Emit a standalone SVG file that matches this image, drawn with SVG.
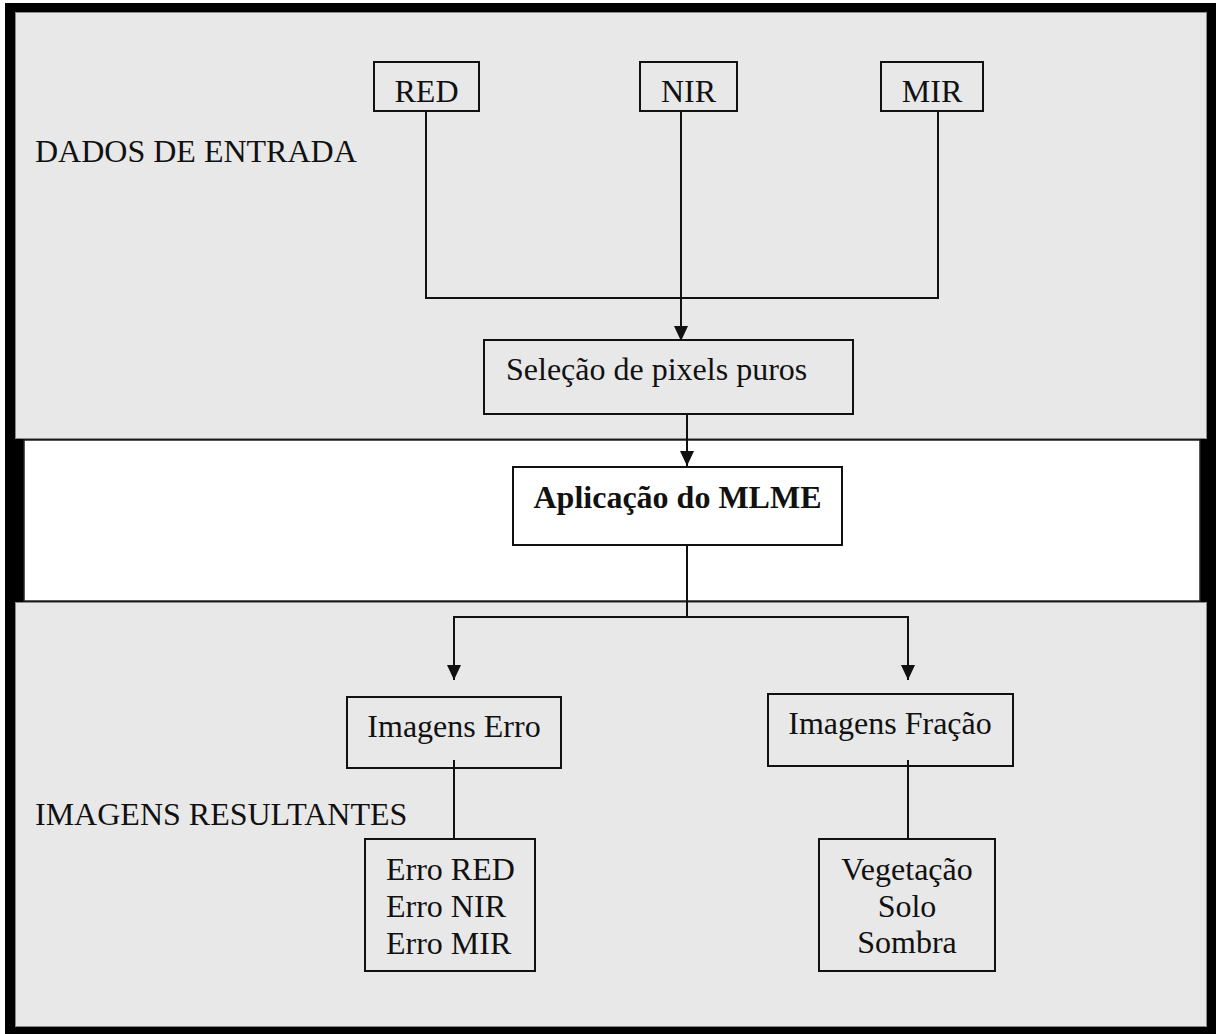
<svg xmlns="http://www.w3.org/2000/svg" width="1216" height="1034" viewBox="0 0 1216 1034">
<style>
.panel{fill:#e8e8e8;stroke:#8a8a8a;stroke-width:1}
.box{fill:#e8e8e8;stroke:#111;stroke-width:2}
.wbox{fill:#fff;stroke:#111;stroke-width:2}
.t{font-family:"Liberation Serif","Times New Roman",serif;font-size:32px;fill:#111}
.b{font-weight:bold}
.c{stroke:#111;stroke-width:2;fill:none}
</style>
<defs>
<marker id="arr" markerUnits="userSpaceOnUse" markerWidth="16" markerHeight="15" refX="15" refY="7" orient="auto">
<path d="M0,0 L15,7 L0,14 Z" fill="#111"/>
</marker>
</defs>
<rect x="5" y="3" width="1211" height="1031" fill="#000"/>
<g id="panel-top"><rect class="panel" x="15.5" y="12.5" width="1191" height="426"/>
<text class="t" x="35" y="162">DADOS DE ENTRADA</text></g>
<g id="panel-mid"><rect x="24" y="440" width="1176" height="161" fill="#fff" stroke="#222" stroke-width="1.5"/></g>
<g id="panel-bottom"><rect class="panel" x="15.5" y="602.5" width="1191" height="424"/>
<text class="t" x="35" y="825">IMAGENS RESULTANTES</text></g>
<g id="connectors">
<path class="c" d="M426,111 V298 H938 V111"/>
<line class="c" x1="681" y1="111" x2="681" y2="341" marker-end="url(#arr)"/>
<line class="c" x1="687" y1="414" x2="687" y2="466" marker-end="url(#arr)"/>
<path class="c" d="M687,545 V617"/>
<path class="c" d="M687,617 H454 V680" marker-end="url(#arr)"/>
<path class="c" d="M687,617 H908 V680" marker-end="url(#arr)"/>
</g>
<g id="node-red"><rect class="box" x="374" y="62" width="105" height="49"/><text class="t" x="426.5" y="102" text-anchor="middle">RED</text></g>
<g id="node-nir"><rect class="box" x="640" y="62" width="97" height="49"/><text class="t" x="688.5" y="102" text-anchor="middle">NIR</text></g>
<g id="node-mir"><rect class="box" x="881" y="62" width="102" height="49"/><text class="t" x="932" y="102" text-anchor="middle">MIR</text></g>
<g id="node-selecao"><rect class="box" x="484" y="340" width="369" height="74"/><text class="t" x="506" y="380">Seleção de pixels puros</text></g>
<g id="node-mlme"><rect class="wbox" x="513" y="467" width="329" height="78"/><text class="t b" x="677.5" y="508" text-anchor="middle">Aplicação do MLME</text></g>
<g id="node-imagens-erro"><rect class="box" x="347" y="697" width="214" height="71"/><text class="t" x="454" y="737" text-anchor="middle">Imagens Erro</text></g>
<g id="node-imagens-fracao"><rect class="box" x="768" y="694" width="245" height="72"/><text class="t" x="890" y="734" text-anchor="middle">Imagens Fração</text></g>
<g id="node-erros"><rect class="box" x="365" y="839" width="170" height="132"/>
<text class="t" x="386" y="880">Erro RED</text><text class="t" x="386" y="917">Erro NIR</text><text class="t" x="386" y="954">Erro MIR</text></g>
<g id="node-fracoes"><rect class="box" x="819" y="839" width="176" height="132"/>
<text class="t" x="907" y="880" text-anchor="middle">Vegetação</text><text class="t" x="907" y="917" text-anchor="middle">Solo</text><text class="t" x="907" y="953" text-anchor="middle">Sombra</text></g>
<g id="connectors-lower">
<line class="c" x1="454" y1="760" x2="454" y2="839"/>
<line class="c" x1="908" y1="760" x2="908" y2="839"/>
</g>
</svg>
